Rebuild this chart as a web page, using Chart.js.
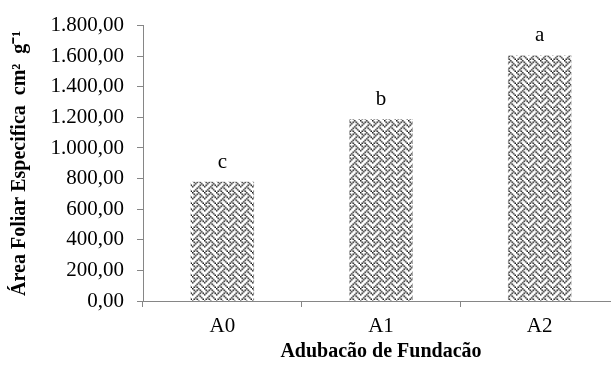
<!DOCTYPE html>
<html lang="pt">
<head>
    <meta charset="UTF-8">
    <title>Área Foliar Especifica</title>
    <style>
        html, body { margin: 0; padding: 0; background: #fff; overflow: hidden; }
        .chart-box { width: 620px; height: 365px; }
    </style>
</head>
<body>
    <div class="chart-box">
        <canvas id="afeChart"></canvas>
    </div>

    <script src="https://cdn.jsdelivr.net/npm/chart.js"></script>
    <script>
        // dados
        const categorias = ['A0', 'A1', 'A2'];
        const areaFoliar = [780, 1187, 1605];
        const letras = ['c', 'b', 'a'];
        const yTicks = [0, 200, 400, 600, 800, 1000, 1200, 1400, 1600, 1800];

        const fonte = "'Liberation Serif', 'Times New Roman', serif";
        const corEixo = '#868686';

        // padrao "weave" para o preenchimento das barras
        const makeWeave = () => {
            const rows = [
                '10001000',
                '01010100',
                '00100010',
                '01000101',
                '10001000',
                '00010100',
                '00100010',
                '01010001'
            ];
            const base = document.createElement('canvas');
            base.width = 8;
            base.height = 8;
            const b = base.getContext('2d');
            b.fillStyle = '#ffffff';
            b.fillRect(0, 0, 8, 8);
            b.fillStyle = '#1e1e1e';
            rows.forEach((r, y) => {
                for (let x = 0; x < 8; x++) {
                    if (r[x] === '1') b.fillRect(x, y, 1, 1);
                }
            });
            // um pouco maior, como no grafico original
            const c = document.createElement('canvas');
            c.width = 12;
            c.height = 12;
            const g = c.getContext('2d');
            g.imageSmoothingEnabled = true;
            g.drawImage(base, 0, 0, 12, 12);
            return g.createPattern(c, 'repeat');
        };

        const fmt = v => {
            const s = Math.round(v).toString().replace(/\B(?=(\d{3})+(?!\d))/g, '.');
            return s + ',00';
        };

        // letras acima das barras
        const letterPlugin = {
            id: 'letras',
            afterDatasetsDraw(chart) {
                const ctx = chart.ctx;
                const meta = chart.getDatasetMeta(0);
                ctx.save();
                ctx.font = '21px ' + fonte;
                ctx.fillStyle = '#000';
                ctx.textAlign = 'center';
                ctx.textBaseline = 'bottom';
                meta.data.forEach((bar, i) => {
                    ctx.fillText(letras[i], bar.x, bar.y - 9);
                });
                ctx.restore();
            }
        };

        const ctx = document.getElementById('afeChart').getContext('2d');
        new Chart(ctx, {
            type: 'bar',
            data: {
                labels: categorias,
                datasets: [{
                    data: areaFoliar,
                    backgroundColor: makeWeave(),
                    borderWidth: 0,
                    barPercentage: 0.4,
                    categoryPercentage: 1
                }]
            },
            options: {
                responsive: true,
                maintainAspectRatio: false,
                animation: false,
                layout: {
                    padding: { top: 13, right: 1, left: 0, bottom: 0 }
                },
                plugins: {
                    legend: { display: false },
                    tooltip: { enabled: false }
                },
                scales: {
                    x: {
                        grid: {
                            display: true,
                            offset: true,
                            drawOnChartArea: false,
                            drawTicks: true,
                            tickLength: 6,
                            color: corEixo
                        },
                        border: { color: corEixo, width: 1 },
                        ticks: {
                            color: '#000',
                            padding: 7,
                            font: { family: fonte, size: 21 }
                        },
                        title: {
                            display: true,
                            text: 'Adubacão de Fundacão',
                            color: '#000',
                            padding: { top: 2, bottom: 1 },
                            font: { family: fonte, size: 20, weight: 'bold' }
                        },
                        afterFit(scale) { scale.height = 64; }
                    },
                    y: {
                        min: 0,
                        max: 1800,
                        afterBuildTicks(scale) {
                            scale.ticks = yTicks.map(v => ({ value: v }));
                        },
                        grid: {
                            display: true,
                            drawOnChartArea: false,
                            drawTicks: true,
                            tickLength: 6,
                            color: corEixo
                        },
                        border: { color: corEixo, width: 1 },
                        ticks: {
                            color: '#000',
                            padding: 13,
                            font: { family: fonte, size: 21 },
                            callback: v => fmt(v)
                        },
                        title: {
                            display: true,
                            text: 'Área Foliar Especifica  cm²  g⁻¹',
                            color: '#000',
                            padding: { top: 8, bottom: 0 },
                            font: { family: fonte, size: 20, weight: 'bold' }
                        },
                        afterFit(scale) { scale.width = 143; }
                    }
                }
            },
            plugins: [letterPlugin]
        });
    </script>
</body>
</html>
